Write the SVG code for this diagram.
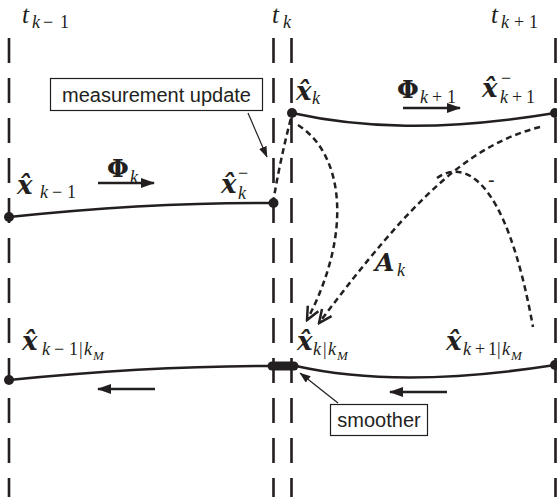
<svg xmlns="http://www.w3.org/2000/svg" width="557" height="497" viewBox="0 0 557 497">
<style>
.bg{fill:#fff}
.vl{stroke:#231f20;stroke-width:2.6;stroke-dasharray:25 15;fill:none}
.sc{stroke:#231f20;stroke-width:2.5;fill:none}
.dc{stroke:#231f20;stroke-width:2.5;fill:none;stroke-dasharray:6 4}
.dot{fill:#231f20}
.pt{stroke:#231f20;stroke-width:1.2;fill:none}
.ar{stroke:#231f20;stroke-width:2.5;fill:none}
.box{fill:#fff;stroke:#231f20;stroke-width:1.2}
.lbl{font-family:"Liberation Sans",Arial,sans-serif;font-size:20px;fill:#231f20}
.m{font-family:"Liberation Serif","DejaVu Serif",serif;fill:#231f20}
.d{font-family:"DejaVu Serif","Liberation Serif",serif}
.it{font-style:italic}
.up{font-style:normal}
.bi{font-style:italic;font-weight:bold}
.bu{font-weight:bold}
.big{font-size:26px}
.t{font-size:25px}
.s{font-size:18px}
.ss{font-size:13px}
</style>
<defs>
<marker id="fa" viewBox="0 0 14 10" refX="13" refY="5" markerWidth="14" markerHeight="10" markerUnits="userSpaceOnUse" orient="auto">
<path d="M0,0 L14,5 L0,10 Z" fill="#231f20"/>
</marker>
<marker id="pa" viewBox="0 0 11 8" refX="10.5" refY="4" markerWidth="11" markerHeight="8" markerUnits="userSpaceOnUse" orient="auto">
<path d="M0,0 L11,4 L0,8 Z" fill="#231f20"/>
</marker>
<marker id="va" viewBox="-14 -8 16 16" refX="0" refY="0" markerWidth="16" markerHeight="16" markerUnits="userSpaceOnUse" orient="auto">
<path d="M-13,-6 L0,0 L-13,6" fill="none" stroke="#231f20" stroke-width="2.5"/>
</marker>
</defs>
<rect class="bg" x="0" y="0" width="557" height="497"/>

<g id="timelines">
<line class="vl" x1="9" y1="38" x2="9" y2="497"/>
<line class="vl" x1="273.5" y1="38" x2="273.5" y2="497"/>
<line class="vl" x1="291.5" y1="38" x2="291.5" y2="497"/>
<line class="vl" x1="555.5" y1="38" x2="555.5" y2="497"/>
</g>

<g id="time-labels">
<text class="m it t" x="22" y="23">t</text>
<text class="m it s" y="28"><tspan x="32">k</tspan><tspan class="up" x="43">−</tspan><tspan class="up" x="60">1</tspan></text>
<text class="m it t" x="272" y="23">t</text>
<text class="m it s" x="283" y="28">k</text>
<text class="m it t" x="491" y="23">t</text>
<text class="m it s" y="28"><tspan x="501">k</tspan><tspan class="up" x="514">+</tspan><tspan class="up" x="529">1</tspan></text>
</g>

<g id="connectors">
<path class="sc" d="M9,217 Q150,202 273,203"/>
<path class="sc" d="M292,113 C360,128 440,132 555,113"/>
<path class="sc" d="M9,380 Q150,366 270,366"/>
<path class="sc" d="M296,366 C340,376 420,386 555,365"/>
<path class="dc" d="M273,203 Q280,160 292,114"/>
<path class="dc" d="M298,125 C345,155 352,235 307,320" marker-end="url(#va)"/>
<path class="dc" d="M540,127 C470,145 415,195 319,323" marker-end="url(#va)"/>
<path class="dc" d="M437,178 C462,160 505,172 533,327"/>
<line class="ar" x1="98" y1="183" x2="154" y2="183" marker-end="url(#fa)"/>
<line class="ar" x1="403" y1="108" x2="460" y2="108" marker-end="url(#fa)"/>
<line class="ar" x1="155" y1="389" x2="98" y2="389" marker-end="url(#fa)"/>
<line class="ar" x1="447" y1="392" x2="390" y2="392" marker-end="url(#fa)"/>
<line class="pt" x1="248" y1="113" x2="267" y2="157" marker-end="url(#pa)"/>
<line class="pt" x1="338" y1="403" x2="300" y2="373" marker-end="url(#pa)"/>
</g>

<g id="node-xkm1">
<circle class="dot" cx="9" cy="217" r="5"/>
<text class="m d bi big" x="17" y="194">x̂</text>
<text class="m it s" y="198"><tspan x="40">k</tspan><tspan class="up" x="52">−</tspan><tspan class="up" x="67">1</tspan></text>
</g>

<g id="node-xk-prior">
<circle class="dot" cx="273.5" cy="203" r="5"/>
<text class="m d bi big" x="221" y="193">x̂</text>
<text class="m it s" x="238" y="199">k</text>
<text class="m s" x="238" y="179">−</text>
</g>

<g id="node-xk">
<circle class="dot" cx="292" cy="113" r="5"/>
<text class="m d bi big" x="296" y="100">x̂</text>
<text class="m it s" x="312" y="104">k</text>
</g>

<g id="node-xkp1-prior">
<circle class="dot" cx="555" cy="113" r="5"/>
<text class="m d bi big" x="482" y="97">x̂</text>
<text class="m it s" y="103"><tspan x="500">k</tspan><tspan class="up" x="512">+</tspan><tspan class="up" x="526">1</tspan></text>
<text class="m s" x="501" y="84">−</text>
</g>

<g id="node-xkm1-smooth">
<circle class="dot" cx="9" cy="380" r="5"/>
<text class="m d bi big" x="22" y="350">x̂</text>
<text class="m it s" y="355"><tspan x="42">k</tspan><tspan class="up" x="54">−</tspan><tspan class="up" x="69">1</tspan><tspan class="up" x="79">|</tspan><tspan x="84">k</tspan></text>
<text class="m it ss" x="93" y="360">M</text>
</g>

<g id="node-xk-smooth">
<line x1="272" y1="366" x2="294" y2="366" stroke="#231f20" stroke-width="9" stroke-linecap="round"/>
<text class="m d bi big" x="297" y="350">x̂</text>
<text class="m it s" y="355"><tspan x="313">k</tspan><tspan class="up" x="323">|</tspan><tspan x="328">k</tspan></text>
<text class="m it ss" x="337" y="360">M</text>
</g>

<g id="node-xkp1-smooth">
<circle class="dot" cx="555" cy="365" r="5"/>
<text class="m d bi big" x="446" y="350">x̂</text>
<text class="m it s" y="355"><tspan x="463">k</tspan><tspan class="up" x="475">+</tspan><tspan class="up" x="488">1</tspan><tspan class="up" x="497">|</tspan><tspan x="502">k</tspan></text>
<text class="m it ss" x="511" y="360">M</text>
</g>

<g id="label-phik">
<text class="m d bu t" x="107" y="177">Φ</text>
<text class="m it s" x="130" y="183">k</text>
</g>

<g id="label-phikp1">
<text class="m d bu t" x="397" y="98">Φ</text>
<text class="m it s" y="103"><tspan x="420">k</tspan><tspan class="up" x="432">+</tspan><tspan class="up" x="447">1</tspan></text>
</g>

<g id="label-Ak">
<text class="m d bi t" x="375" y="271">A</text>
<text class="m it s" x="397" y="276">k</text>
</g>

<g id="mark-minus">
<text class="lbl" x="488" y="187">-</text>
</g>

<g id="box-measurement">
<rect class="box" x="50.5" y="78.5" width="212" height="32"/>
<text class="lbl" x="156.5" y="102" text-anchor="middle">measurement update</text>
</g>

<g id="box-smoother">
<rect class="box" x="330.5" y="404.5" width="97" height="31"/>
<text class="lbl" x="379" y="427" text-anchor="middle">smoother</text>
</g>
</svg>
